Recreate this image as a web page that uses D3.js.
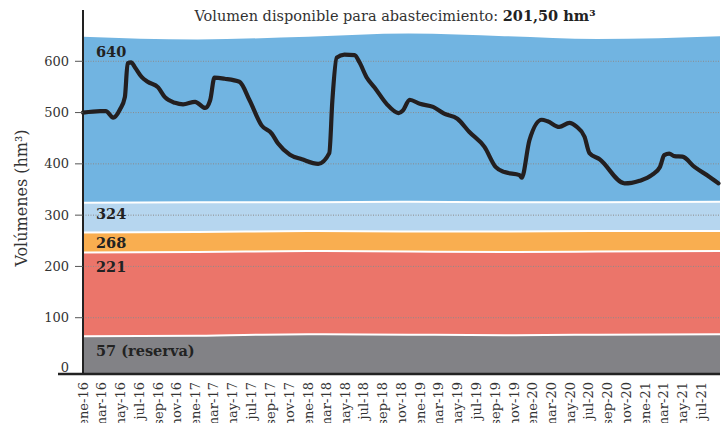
<!DOCTYPE html>
<html>
<head>
<meta charset="utf-8">
<script src="https://cdn.jsdelivr.net/npm/d3@7"></script>
<style>
  body { margin: 0; background: #fff; }
  text { font-family: "DejaVu Serif", serif; }
</style>
</head>
<body>
<div id="drawing"></div>
<script>
// volumen embalsado (hm3)
const lineDates = ["2016-01-01","2016-02-26","2016-03-15","2016-04-08","2016-04-30","2016-05-16","2016-05-25","2016-06-05","2016-06-18","2016-07-10","2016-07-29","2016-09-01","2016-09-23","2016-10-26","2016-11-21","2016-12-30","2017-02-01","2017-02-17","2017-03-03","2017-04-05","2017-05-23","2017-06-25","2017-08-03","2017-09-05","2017-09-25","2017-11-03","2017-12-12","2018-02-03","2018-03-11","2018-03-21","2018-04-04","2018-04-29","2018-06-01","2018-06-17","2018-07-10","2018-08-05","2018-09-13","2018-10-22","2018-11-05","2018-11-27","2018-12-30","2019-02-11","2019-03-19","2019-05-01","2019-06-09","2019-07-28","2019-09-02","2019-10-01","2019-11-19","2019-11-26","2019-12-21","2020-01-30","2020-02-18","2020-03-27","2020-04-29","2020-05-21","2020-06-17","2020-07-03","2020-08-05","2020-10-25","2020-11-17","2020-12-13","2021-01-21","2021-02-17","2021-03-03","2021-03-19","2021-04-05","2021-05-01","2021-06-09","2021-07-27","2021-08-26"];
const lineValues = [500,503,503,490,506,530,596,598,588,569,560,549,530,519,516,521,509,524,568,566,560,524,475,459,440,418,409,400,421,524,607,613,612,598,569,549,517,499,504,525,517,511,498,488,462,433,394,384,378,373,446,486,483,472,480,473,453,421,409,362,363,367,378,394,417,420,415,414,394,375,362];

// límites de las franjas
const bandDates = ["2016-01-01","2017-01-07","2018-01-01","2018-11-24","2019-10-01","2020-07-28","2021-08-31"];
const reservaTop = [64, 65, 68, 67, 66, 67, 68];
const rojoTop    = [227, 228, 230, 229, 228, 229, 230];
const naranjaTop = [266, 267, 269, 268, 268, 269, 269];
const celesteTop = [324, 325, 325, 326, 325, 325, 326];
const azulTop    = [648, 642.5, 648, 654, 649, 643.5, 649];

const bandColors = ["#828286", "#eb756a", "#f9ae50", "#b6d6ef", "#71b4e1"];
const bandLabels = ["57 (reserva)", "221", "268", "324", "640"];
const bandLabelValues = [57, 221, 268, 324, 640];

const yTicks = [0, 100, 200, 300, 400, 500, 600];
const xTickLabels = ["ene-16","mar-16","may-16","jul-16","sep-16","nov-16","ene-17","mar-17","may-17","jul-17","sep-17","nov-17","ene-18","mar-18","may-18","jul-18","sep-18","nov-18","ene-19","mar-19","may-19","jul-19","sep-19","nov-19","ene-20","mar-20","may-20","jul-20","sep-20","nov-20","ene-21","mar-21","may-21","jul-21"];

const width = 723;
const height = 423;
const plot = {left: 83, right: 720, top: 10, zero: 369, bottom: 374};

const parse = d3.timeParse("%Y-%m-%d");

const svg = d3.select("#drawing").append("svg")
  .attr("width", width)
  .attr("height", height);

const x = d3.scaleTime()
  .domain([parse("2016-01-01"), parse("2021-08-31")])
  .range([plot.left, plot.right]);

const y = d3.scaleLinear()
  .domain([0, 700])
  .range([plot.zero, plot.top]);

// franjas apiladas
const tops = [reservaTop, rojoTop, naranjaTop, celesteTop, azulTop];
const bands = tops.map((t, i) => bandDates.map((d, j) => ({
  date: parse(d),
  lo: i === 0 ? null : tops[i - 1][j],
  hi: t[j]
})));

const area = d3.area()
  .x(d => x(d.date))
  .y0(d => d.lo === null ? plot.bottom : y(d.lo))
  .y1(d => y(d.hi))
  .curve(d3.curveMonotoneX);

svg.selectAll(".band")
  .data(bands)
  .enter()
  .append("path")
    .attr("class", "band")
    .attr("d", area)
    .style("fill", (d, i) => bandColors[i]);

// separadores blancos
const edge = d3.line()
  .x(d => x(d.date))
  .y(d => y(d.hi))
  .curve(d3.curveMonotoneX);

svg.selectAll(".edge")
  .data(bands.slice(0, 4))
  .enter()
  .append("path")
    .attr("class", "edge")
    .attr("d", edge)
    .style("fill", "none")
    .style("stroke", "#fff")
    .style("stroke-width", 2);

// rejilla punteada
svg.selectAll(".grid")
  .data(yTicks.filter(d => d > 0))
  .enter()
  .append("line")
    .attr("class", "grid")
    .attr("x1", plot.left)
    .attr("x2", plot.right)
    .attr("y1", d => y(d))
    .attr("y2", d => y(d))
    .style("stroke", "#8c8c8c")
    .style("stroke-width", 1)
    .style("stroke-dasharray", "1,1.5");

// etiquetas de las franjas
svg.selectAll(".bandLabel")
  .data(bandLabels)
  .enter()
  .append("text")
    .attr("class", "bandLabel")
    .attr("x", 96)
    .attr("y", (d, i) => y(bandLabelValues[i]) + 16)
    .style("font-size", "14.5px")
    .style("font-weight", "bold")
    .style("fill", "#222")
    .text(d => d);

// línea del volumen
const line = d3.line()
  .x((d, i) => x(parse(lineDates[i])))
  .y(d => y(d))
  .curve(d3.curveMonotoneX);

svg.append("path")
  .datum(lineValues)
  .attr("d", line)
  .style("fill", "none")
  .style("stroke", "#231f20")
  .style("stroke-width", 4.2)
  .style("stroke-linejoin", "round")
  .style("stroke-linecap", "round");

// eje Y
const yAxis = svg.append("g");
yAxis.append("line")
  .attr("x1", plot.left).attr("x2", plot.left)
  .attr("y1", plot.top).attr("y2", plot.bottom)
  .style("stroke", "#222")
  .style("stroke-width", 2);

yAxis.selectAll(".ytick")
  .data(yTicks.filter(d => d > 0))
  .enter()
  .append("line")
    .attr("x1", plot.left - 8).attr("x2", plot.left)
    .attr("y1", d => y(d)).attr("y2", d => y(d))
    .style("stroke", "#555")
    .style("stroke-width", 1);

yAxis.selectAll(".ylab")
  .data(yTicks)
  .enter()
  .append("text")
    .attr("x", 69)
    .attr("y", d => y(d) - (d === 0 ? 2 : 0))
    .attr("dy", "0.35em")
    .attr("text-anchor", "end")
    .style("font-size", "13px")
    .style("fill", "#333")
    .text(d => d);

// eje X
svg.append("line")
  .attr("x1", 58).attr("x2", plot.right)
  .attr("y1", plot.bottom).attr("y2", plot.bottom)
  .style("stroke", "#222")
  .style("stroke-width", 2.5);

const xTicks = d3.timeMonth.range(parse("2016-01-01"), parse("2021-08-01"), 2);

svg.selectAll(".xlab")
  .data(xTicks)
  .enter()
  .append("text")
    .attr("transform", d => `translate(${x(d)}, 382) rotate(-90)`)
    .attr("dy", "0.35em")
    .attr("text-anchor", "end")
    .style("font-size", "13px")
    .style("fill", "#333")
    .text((d, i) => xTickLabels[i]);

// título del eje
svg.append("text")
  .attr("transform", "translate(27, 198) rotate(-90)")
  .attr("text-anchor", "middle")
  .style("font-size", "16px")
  .style("fill", "#333")
  .text("Volúmenes (hm³)");

// título
const title = svg.append("text")
  .attr("x", 395)
  .attr("y", 21)
  .attr("text-anchor", "middle")
  .style("font-size", "14.5px")
  .style("fill", "#333");
title.append("tspan").text("Volumen disponible para abastecimiento: ");
title.append("tspan").style("font-weight", "bold").style("fill", "#222").text("201,50 hm³");
</script>
</body>
</html>
